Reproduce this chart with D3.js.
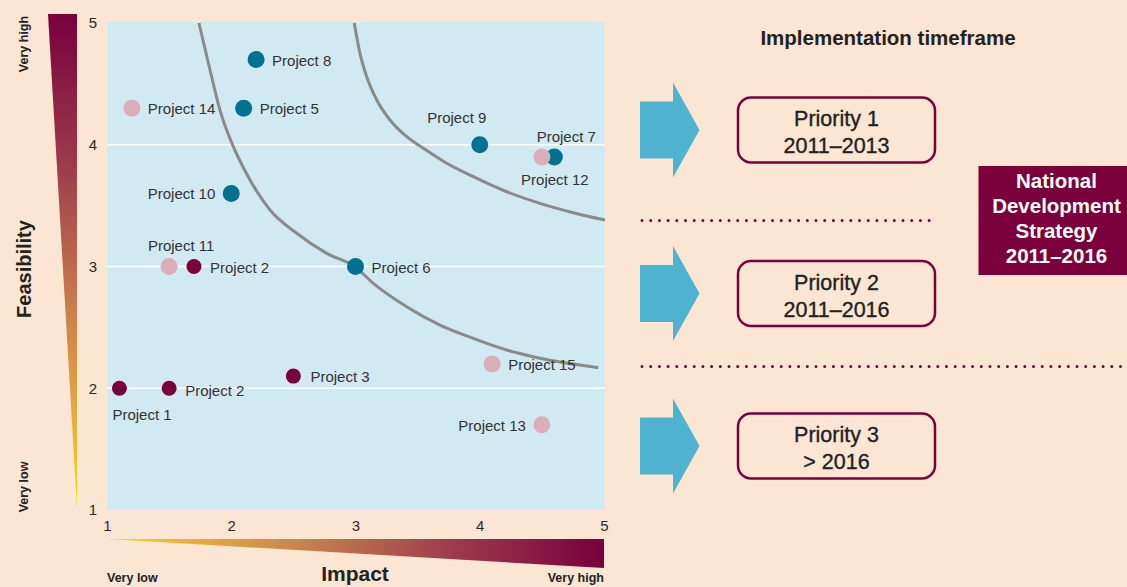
<!DOCTYPE html>
<html>
<head>
<meta charset="utf-8">
<script src="https://cdn.jsdelivr.net/npm/d3@7"></script>
<style>
  html, body { margin: 0; padding: 0; background: #fbe5d3; }
  svg { display: block; font-family: "Liberation Sans", Arial, sans-serif; }
</style>
</head>
<body>
<svg id="chart" width="1127" height="587"></svg>
<script>
// ---------------- DATA ----------------
const projectNames = ["Project 1","Project 2","Project 3","Project 2","Project 11","Project 14","Project 15","Project 13","Project 10","Project 5","Project 8","Project 6","Project 9","Project 7","Project 12"];
const impactValues = [1.1, 1.5, 2.5, 1.7, 1.5, 1.2, 4.1, 4.5, 2.0, 2.1, 2.2, 3.0, 4.0, 4.6, 4.5];
const feasibilityValues = [2.0, 2.0, 2.1, 3.0, 3.0, 4.3, 2.2, 1.7, 3.6, 4.3, 4.7, 3.0, 4.0, 3.9, 3.9];
const projectGroups = ["low","low","low","low","mid","mid","mid","mid","high","high","high","high","high","high","mid"];

const xTicks = [1, 2, 3, 4, 5];
const yTicks = [1, 2, 3, 4, 5];
const gridValues = [2, 3, 4];

// threshold curves (impact, feasibility)
const curveInnerX = [1.74, 1.829, 1.909, 2.017, 2.151, 2.312, 2.527, 2.768, 2.996, 3.143, 3.412, 3.68, 3.948, 4.217, 4.485, 4.954];
const curveInnerY = [5.0, 4.614, 4.285, 3.984, 3.711, 3.464, 3.273, 3.108, 2.998, 2.862, 2.67, 2.519, 2.41, 2.314, 2.246, 2.169];
const curveOuterX = [2.99, 3.036, 3.09, 3.171, 3.278, 3.412, 3.546, 3.734, 3.948, 4.217, 4.485, 4.753, 5.008];
const curveOuterY = [5.0, 4.751, 4.559, 4.368, 4.203, 4.066, 3.971, 3.848, 3.738, 3.614, 3.519, 3.442, 3.382];

const priorityTitles = ["Priority 1", "Priority 2", "Priority 3"];
const priorityPeriods = ["2011\u20132013", "2011\u20132016", "> 2016"];
const strategyLines = ["National", "Development", "Strategy", "2011\u20132016"];

// ---------------- STYLE / LAYOUT ----------------
const colors = { low: "#7a003c", mid: "#dcaeb9", high: "#00718f" };
const radii = { low: 7.5, mid: 8.5, high: 8.5 };
// label placement per point: [anchor, dx, dy]
const labelPlace = [
  ["start", -7, 32], ["start", 16, 7.5], ["start", 17, 6], ["start", 16, 6], ["middle", 12, -16],
  ["start", 16, 6], ["start", 16, 6], ["end", -16, 6], ["end", -16, 6], ["start", 16, 6],
  ["start", 16, 6], ["start", 16, 6], ["middle", -23, -22], ["middle", 12, -15], ["middle", 13, 28]
];

const svg = d3.select("#chart");
const plot = { left: 107, right: 605, top: 22, bottom: 510 };

const x = d3.scaleLinear().domain([1, 5]).range([107, 604]);
const y = d3.scaleLinear().domain([1, 5]).range([510, 23]);

const defs = svg.append("defs");
const gV = defs.append("linearGradient").attr("id", "gradV").attr("x1", 0).attr("y1", 0).attr("x2", 0).attr("y2", 1);
[[0, "#78003c"], [0.3, "#9c3a4d"], [0.6, "#c8804e"], [0.85, "#eab23c"], [1, "#ffd700"]]
  .forEach(s => gV.append("stop").attr("offset", s[0]).attr("stop-color", s[1]));
const gH = defs.append("linearGradient").attr("id", "gradH").attr("x1", 0).attr("y1", 0).attr("x2", 1).attr("y2", 0);
[[0, "#ffd700"], [0.15, "#eab23c"], [0.4, "#c8804e"], [0.7, "#9c3a4d"], [1, "#78003c"]]
  .forEach(s => gH.append("stop").attr("offset", s[0]).attr("stop-color", s[1]));
defs.append("clipPath").attr("id", "plotClip").append("rect")
  .attr("x", plot.left).attr("y", plot.top).attr("width", plot.right - plot.left).attr("height", plot.bottom - plot.top);

// plot background
svg.append("rect").attr("x", plot.left).attr("y", plot.top)
  .attr("width", plot.right - plot.left).attr("height", plot.bottom - plot.top)
  .attr("fill", "#d1e9f0");

// gridlines
svg.append("g").selectAll("line").data(gridValues).join("line")
  .attr("x1", plot.left).attr("x2", plot.right)
  .attr("y1", d => y(d)).attr("y2", d => y(d))
  .attr("stroke", "#ffffff").attr("stroke-width", 1.6);

// curves
const line = d3.line().x(d => x(d[0])).y(d => y(d[1])).curve(d3.curveMonotoneX);
const curves = [d3.zip(curveInnerX, curveInnerY), d3.zip(curveOuterX, curveOuterY)];
svg.append("g").attr("clip-path", "url(#plotClip)").selectAll("path").data(curves).join("path")
  .attr("d", line).attr("fill", "none").attr("stroke", "#8a8a8a").attr("stroke-width", 3);

// axes
const yAxis = svg.append("g").attr("transform", `translate(${plot.left},0)`)
  .call(d3.axisLeft(y).tickValues(yTicks).tickFormat(d3.format("d")).tickSize(0).tickPadding(10));
const xAxis = svg.append("g").attr("transform", `translate(0,${plot.bottom})`)
  .call(d3.axisBottom(x).tickValues(xTicks).tickFormat(d3.format("d")).tickSize(0).tickPadding(10));
[yAxis, xAxis].forEach(a => {
  a.select(".domain").remove();
  a.selectAll("text").attr("font-size", 15).attr("fill", "#2a2a2a")
    .attr("font-family", "'Liberation Sans', Arial, sans-serif");
});

// points
const pts = projectNames.map((n, i) => ({ name: n, x: impactValues[i], y: feasibilityValues[i], g: projectGroups[i], p: labelPlace[i] }));
svg.append("g").selectAll("circle").data(pts).join("circle")
  .attr("cx", d => x(d.x)).attr("cy", d => y(d.y))
  .attr("r", d => radii[d.g]).attr("fill", d => colors[d.g]);
svg.append("g").selectAll("text").data(pts).join("text")
  .attr("x", d => x(d.x) + d.p[1]).attr("y", d => y(d.y) + d.p[2])
  .attr("text-anchor", d => d.p[0])
  .attr("font-size", 15).attr("fill", "#333333")
  .text(d => d.name);

// vertical gradient triangle (feasibility)
svg.append("path").attr("d", "M48,14 L77,14 L77,508 Z").attr("fill", "url(#gradV)");
// horizontal gradient triangle (impact)
svg.append("path").attr("d", "M108,539 L604,539 L604,568 Z").attr("fill", "url(#gradH)");

// axis titles
svg.append("text").attr("transform", "translate(31,269) rotate(-90)")
  .attr("text-anchor", "middle").attr("font-weight", "bold").attr("font-size", 20).attr("fill", "#222")
  .text("Feasibility");
svg.append("text").attr("transform", "translate(28,44) rotate(-90)")
  .attr("text-anchor", "middle").attr("font-weight", "bold").attr("font-size", 12.5).attr("fill", "#222")
  .text("Very high");
svg.append("text").attr("transform", "translate(28,487) rotate(-90)")
  .attr("text-anchor", "middle").attr("font-weight", "bold").attr("font-size", 12.5).attr("fill", "#222")
  .text("Very low");
svg.append("text").attr("x", 355).attr("y", 581)
  .attr("text-anchor", "middle").attr("font-weight", "bold").attr("font-size", 21).attr("fill", "#222")
  .text("Impact");
svg.append("text").attr("x", 107).attr("y", 582)
  .attr("font-weight", "bold").attr("font-size", 12.5).attr("fill", "#222").text("Very low");
svg.append("text").attr("x", 604).attr("y", 582).attr("text-anchor", "end")
  .attr("font-weight", "bold").attr("font-size", 12.5).attr("fill", "#222").text("Very high");

// right panel
svg.append("text").attr("x", 888).attr("y", 45).attr("text-anchor", "middle")
  .attr("font-weight", "bold").attr("font-size", 20.5).attr("fill", "#222")
  .text("Implementation timeframe");

const rowCenters = [130, 293.5, 446];
const boxTops = [97.5, 261, 413.5];
// arrows
svg.append("g").selectAll("path").data(rowCenters).join("path")
  .attr("d", c => `M640,${c - 28.5} L673,${c - 28.5} L673,${c - 47.5} L699.5,${c} L673,${c + 47.5} L673,${c + 28.5} L640,${c + 28.5} Z`)
  .attr("fill", "#4fb3d0");
// boxes
const boxes = svg.append("g").selectAll("g").data(priorityTitles).join("g");
boxes.append("rect")
  .attr("x", 738).attr("y", (d, i) => boxTops[i]).attr("width", 197).attr("height", 65)
  .attr("rx", 13).attr("fill", "none").attr("stroke", "#7a003c").attr("stroke-width", 2.5);
boxes.append("text").attr("x", 836.5).attr("y", (d, i) => boxTops[i] + 28.5)
  .attr("text-anchor", "middle").attr("font-size", 21.5).attr("fill", "#222")
  .attr("stroke", "#222").attr("stroke-width", 0.35)
  .text(d => d);
boxes.append("text").attr("x", 836.5).attr("y", (d, i) => boxTops[i] + 55.5)
  .attr("text-anchor", "middle").attr("font-size", 21.5).attr("fill", "#222")
  .attr("stroke", "#222").attr("stroke-width", 0.35)
  .text((d, i) => priorityPeriods[i]);

// dotted separators
svg.append("line").attr("x1", 642).attr("x2", 936).attr("y1", 220.5).attr("y2", 220.5)
  .attr("stroke", "#7a003c").attr("stroke-width", 3).attr("stroke-linecap", "round").attr("stroke-dasharray", "0 8.7");
svg.append("line").attr("x1", 642).attr("x2", 1127).attr("y1", 366.5).attr("y2", 366.5)
  .attr("stroke", "#7a003c").attr("stroke-width", 3).attr("stroke-linecap", "round").attr("stroke-dasharray", "0 8.7");

// national strategy box
svg.append("rect").attr("x", 978.5).attr("y", 166).attr("width", 150).attr("height", 109).attr("fill", "#7a003c");
svg.append("g").selectAll("text").data(strategyLines).join("text")
  .attr("x", 1056.5).attr("y", (d, i) => 188 + i * 25)
  .attr("text-anchor", "middle").attr("font-weight", "bold").attr("font-size", 20.5).attr("fill", "#ffffff")
  .text(d => d);
</script>
</body>
</html>
